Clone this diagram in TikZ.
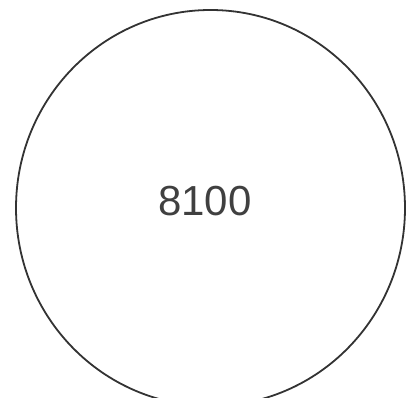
\documentclass[tikz,border=0pt]{standalone}
\usepackage{fontspec}
\setmainfont{Liberation Sans}
\begin{document}
\begin{tikzpicture}[x=1pt,y=1pt,
  ring/.style={draw=black!80,line width=1.8pt},
  label/.style={text=black!75,font=\fontsize{42}{42}\selectfont,inner sep=0pt}]
\useasboundingbox (0,0) rectangle (407,398);
\begin{scope}
\clip (0,0) rectangle (407,398);
\draw[ring] (210.5,190) ellipse [x radius=194.5, y radius=198];
\end{scope}
\node[label] (num) at (205,197) {8100};
\end{tikzpicture}
\end{document}
